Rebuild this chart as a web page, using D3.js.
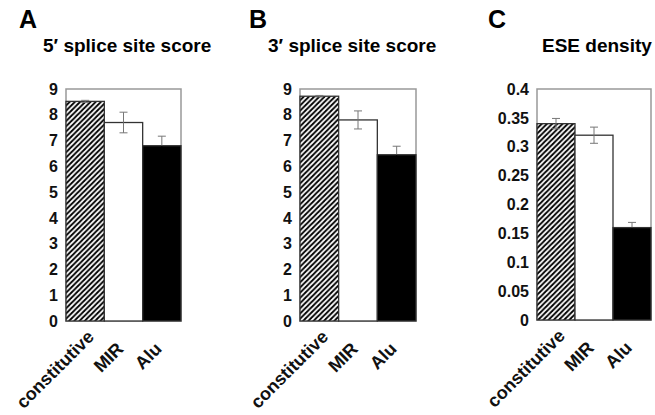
<!DOCTYPE html>
<html lang="en">
<head>
<meta charset="UTF-8">
<title>Splice site scores and ESE density</title>
<script src="https://d3js.org/d3.v7.min.js"></script>
<style>
  body { margin: 0; background: #fff; }
  svg { display: block; font-family: "Liberation Sans", Arial, sans-serif; }
  .tick text { font-size: 16px; font-weight: bold; fill: #111; }
</style>
</head>
<body>
<svg width="655" height="415"></svg>
<script>
// data
const categories = ["constitutive", "MIR", "Alu"];
const panelLetters = ["A", "B", "C"];
const panelTitles = ["5\u2032 splice site score", "3\u2032 splice site score", "ESE density"];

const score5 = [8.52, 7.7, 6.8];
const score5Err = [0.04, 0.4, 0.37];
const score3 = [8.72, 7.8, 6.45];
const score3Err = [0.03, 0.35, 0.33];
const eseDensity = [0.34, 0.32, 0.16];
const eseDensityErr = [0.009, 0.014, 0.009];

const scoreTicks = [0, 1, 2, 3, 4, 5, 6, 7, 8, 9];
const eseTicks = [0, 0.05, 0.1, 0.15, 0.2, 0.25, 0.3, 0.35, 0.4];
const eseTickLabels = ["0", "0.05", "0.1", "0.15", "0.2", "0.25", "0.3", "0.35", "0.4"];

const svg = d3.select("svg");

// hatch for the constitutive bars
const hs = 5.2;
const pat = svg.append("defs").append("pattern")
    .attr("id", "hatch")
    .attr("patternUnits", "userSpaceOnUse")
    .attr("width", hs).attr("height", hs);
pat.append("rect").attr("width", hs).attr("height", hs).attr("fill", "#fff");
pat.append("path")
    .attr("d", `M${-hs / 4},${hs / 4} l${hs / 2},${-hs / 2} M0,${hs} l${hs},${-hs} M${hs * 0.75},${hs * 1.25} l${hs / 2},${-hs / 2}`)
    .attr("stroke", "#000").attr("stroke-width", 1.9);

const fills = ["url(#hatch)", "#fff", "#000"];

const panels = [
    { values: score5, errs: score5Err, ticks: scoreTicks, labels: scoreTicks.map(String), max: 9,
      left: 66, right: 181, bottom: 321, letterX: 19, titleX: 43 },
    { values: score3, errs: score3Err, ticks: scoreTicks, labels: scoreTicks.map(String), max: 9,
      left: 300, right: 416, bottom: 321, letterX: 249, titleX: 268 },
    { values: eseDensity, errs: eseDensityErr, ticks: eseTicks, labels: eseTickLabels, max: 0.4,
      left: 537, right: 651, bottom: 320, letterX: 488, titleX: 542 }
];
const plotTop = 89;

panels.forEach((p, pi) => {
    const g = svg.append("g");

    g.append("text")
        .attr("x", p.letterX).attr("y", 28)
        .style("font-size", "25px").style("font-weight", "bold")
        .text(panelLetters[pi]);

    g.append("text")
        .attr("x", p.titleX).attr("y", 52)
        .style("font-size", "19px").style("font-weight", "bold")
        .text(panelTitles[pi]);

    const x = d3.scaleBand().domain(categories).range([p.left, p.right]).padding(0);
    const y = d3.scaleLinear().domain([0, p.max]).range([p.bottom, plotTop]);

    // grey frame
    g.append("rect")
        .attr("x", p.left).attr("y", plotTop)
        .attr("width", p.right - p.left).attr("height", p.bottom - plotTop)
        .attr("fill", "none").attr("stroke", "#999").attr("stroke-width", 1.5);

    const axis = g.append("g")
        .attr("transform", `translate(${p.left},0)`)
        .call(d3.axisLeft(y).tickValues(p.ticks).tickSize(0).tickPadding(8)
            .tickFormat((d, i) => p.labels[i]));
    axis.select(".domain").remove();

    const rows = categories.map((c, i) => ({ cat: c, v: p.values[i], e: p.errs[i], fill: fills[i] }));

    g.selectAll("rect.bar")
        .data(rows)
        .enter().append("rect")
        .attr("class", "bar")
        .attr("x", d => x(d.cat))
        .attr("y", d => y(d.v))
        .attr("width", x.bandwidth())
        .attr("height", d => y(0) - y(d.v))
        .attr("fill", d => d.fill)
        .attr("stroke", "#333").attr("stroke-width", 1.3);

    // error bars (lower whisker disappears on the black bar)
    const eb = g.selectAll("g.err")
        .data(rows)
        .enter().append("g")
        .attr("class", "err")
        .attr("transform", d => `translate(${x(d.cat) + x.bandwidth() / 2},0)`);
    const cap = 4;
    eb.append("path")
        .attr("d", d => `M0,${y(d.v)}V${y(d.v + d.e)}M${-cap},${y(d.v + d.e)}H${cap}`)
        .attr("stroke", "#777").attr("stroke-width", 1).attr("fill", "none");
    eb.append("path")
        .attr("d", d => `M0,${y(d.v)}V${y(d.v - d.e)}M${-cap},${y(d.v - d.e)}H${cap}`)
        .attr("stroke", d => d.fill === "#000" ? "#000" : "#777")
        .attr("stroke-width", 1).attr("fill", "none");

    // rotated category labels
    g.selectAll("text.cat")
        .data(categories)
        .enter().append("text")
        .attr("class", "cat")
        .attr("transform", (d, i) => {
            const cx = x(d) + x.bandwidth() / 2 + (i === 0 ? 10 : 1);
            const cy = p.bottom + (i === 0 ? 17 : 29);
            return `translate(${cx},${cy}) rotate(-45)`;
        })
        .attr("text-anchor", "end")
        .style("font-size", "18px").style("font-weight", "bold")
        .attr("fill", "#111")
        .text(d => d);
});
</script>
</body>
</html>
